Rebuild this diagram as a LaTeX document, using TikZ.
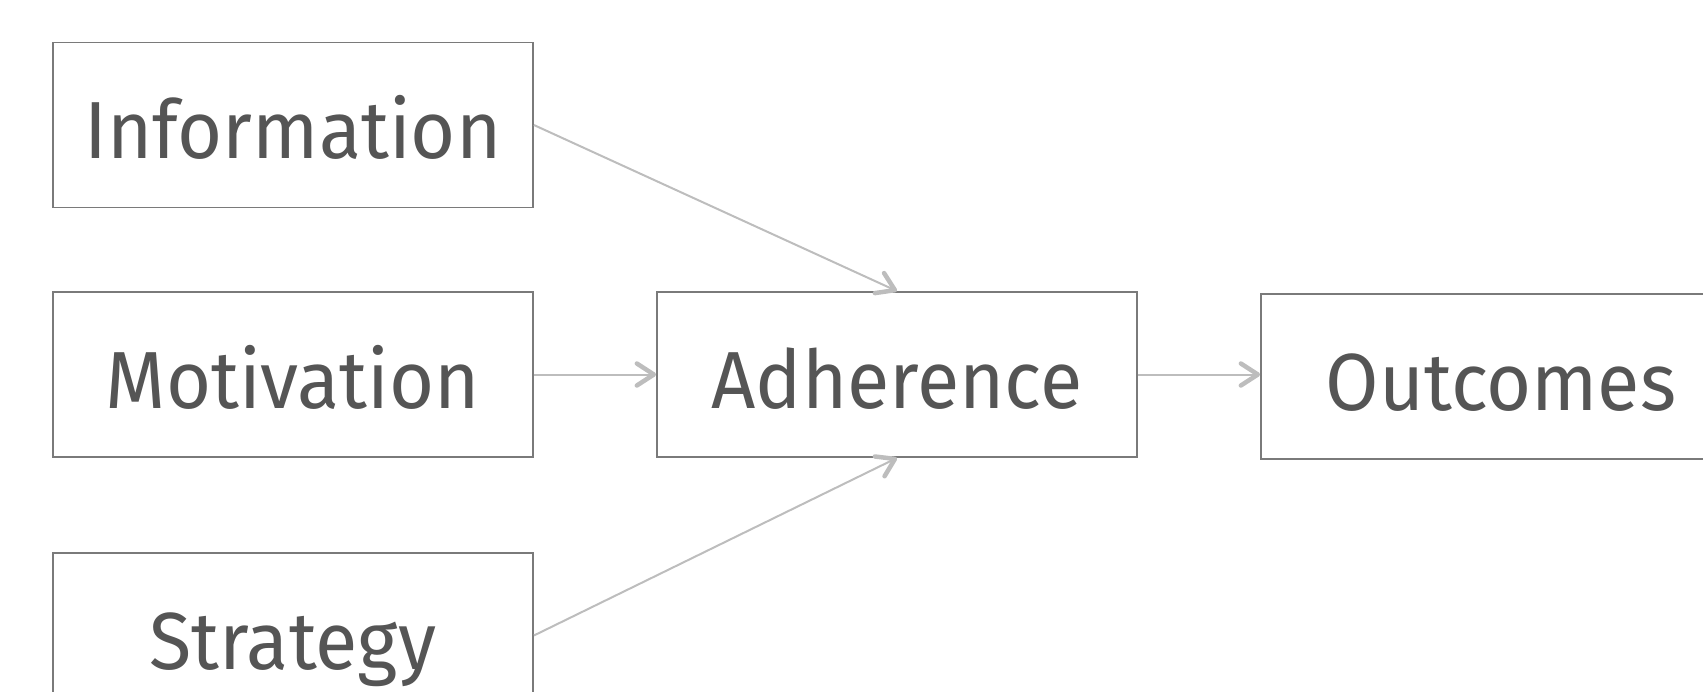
\documentclass[tikz,border=0pt]{standalone}
\usepackage{fontspec}
\setmainfont{Fira Sans}[FakeStretch=0.955]
\usetikzlibrary{arrows.meta}
\definecolor{boxline}{HTML}{7A7A7A}
\definecolor{txt}{HTML}{555555}
\definecolor{arr}{HTML}{BDBDBD}
\tikzset{
  box/.style={draw=boxline, line width=1.8pt, rectangle, inner sep=0pt,
    minimum width=480pt, minimum height=165pt, text=txt,
    text height=67pt, text depth=0pt,
    font=\fontsize{81}{96}\selectfont},
  conn/.style={draw=arr, line width=2pt,
    -{Straight Barb[length=17pt, width=22pt, line width=4.5pt, round]}}
}
\begin{document}
\begin{tikzpicture}[x=1pt,y=-1pt]
\useasboundingbox (0,0) rectangle (1703,691);
\node[box] (inf) at (293,125) {Information};
\node[box] (mot) at (293,374.5) {Motivation};
\node[box] (str) at (293,635.5) {Strategy};
\node[box] (adh) at (897,374.5) {Adherence};
\node[box] (out) at (1501,376.5) {Outcomes};
\draw[conn] (inf.east) -- (adh.north);
\draw[conn] (mot.east) -- (adh.west);
\draw[conn] (str.east) -- (adh.south);
\draw[conn] (adh.east) -- (adh.east -| out.west);
\end{tikzpicture}
\end{document}
